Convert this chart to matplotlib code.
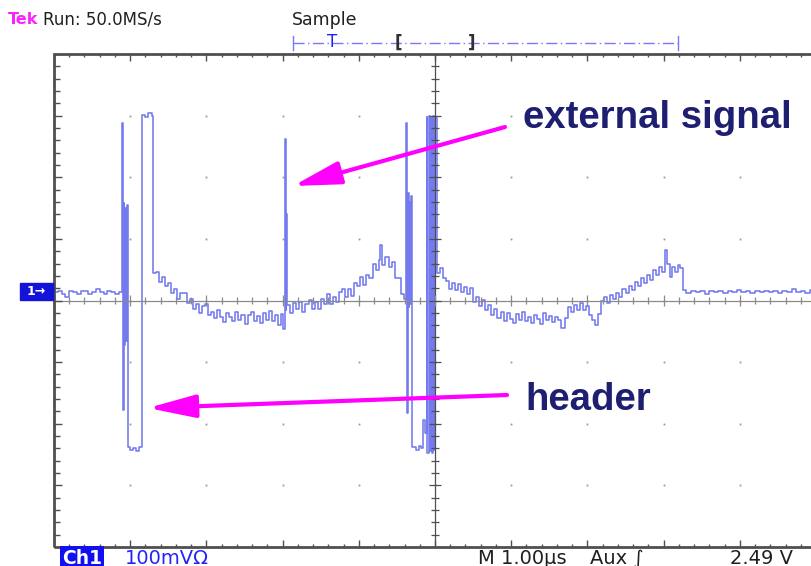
"""Tek oscilloscope capture: header pulses and an external signal spike."""

import matplotlib.pyplot as plt
import numpy as np
from matplotlib.patches import FancyArrowPatch, Rectangle

# scope settings
TIME_PER_DIV = 1.0    # us / div
VOLTS_PER_DIV = 100   # mV / div
H_DIVS = 10
V_DIVS = 8

# CH1 trace, time in us, level in mV
baseline_left_t = [0.00, 0.05, 0.10, 0.15, 0.20, 0.25, 0.30, 0.35, 0.40,
                   0.45, 0.50, 0.55, 0.60, 0.65, 0.70, 0.75, 0.80, 0.85]
baseline_left_mv = [14, 16, 10, 6, 15, 13, 11, 15, 16,
                    11, 14, 18, 13, 11, 16, 14, 10, 14]

header1_t = [0.89, 0.905, 0.915, 0.925, 0.935, 0.945, 0.955, 0.965, 0.97,
             1.00, 1.04, 1.08, 1.12, 1.155, 1.20, 1.24, 1.28]
header1_mv = [288, -178, 158, -72, 150, -65, 155, -70, -238,
              -243, -240, -245, -238, 301, 298, 304, 299]

decay1_t = [1.30, 1.34, 1.38, 1.42, 1.46, 1.50, 1.54, 1.58, 1.62, 1.66,
            1.70, 1.74, 1.78, 1.82, 1.86, 1.90, 1.94, 1.98, 2.02, 2.06,
            2.10, 2.14, 2.18, 2.22, 2.26, 2.30, 2.34, 2.38, 2.42, 2.46,
            2.50, 2.54, 2.58, 2.62, 2.66, 2.70, 2.74, 2.78, 2.82, 2.86,
            2.90, 2.94, 2.98]
decay1_mv = [45, 46, 30, 38, 23, 29, 12, 18, 2, 12,
             12, -4, 3, -13, -6, -21, -9, -6, -24, -18,
             -29, -15, -27, -35, -20, -26, -34, -18, -32, -23,
             -38, -24, -19, -33, -25, -36, -21, -31, -17, -34,
             -24, -39, -22]

ext_spike_t = [3.01, 3.025, 3.04, 3.05]
ext_spike_mv = [-46, 262, -15, 140]

ramp1_t = [3.06, 3.10, 3.14, 3.18, 3.22, 3.26, 3.30, 3.34, 3.38, 3.42,
           3.46, 3.50, 3.54, 3.58, 3.62, 3.66, 3.70, 3.74, 3.78, 3.82,
           3.86, 3.90, 3.94, 3.98, 4.02, 4.06, 4.10, 4.14, 4.18, 4.22,
           4.26, 4.28, 4.31, 4.35, 4.39, 4.43, 4.47, 4.51, 4.55, 4.59]
ramp1_mv = [-7, -20, -4, -14, -2, -19, -6, 1, -13, -2,
            -13, 2, -5, 10, -5, 6, -3, 13, 18, 6,
            18, 7, 28, 23, 38, 25, 42, 37, 59, 50,
            65, 90, 58, 71, 55, 62, 37, 36, 11, 2]

header2_t = [4.62, 4.635, 4.645, 4.655, 4.665, 4.675, 4.685, 4.695, 4.70,
             4.75, 4.79, 4.82, 4.84, 4.865, 4.89, 4.90, 4.915, 4.93,
             4.945, 4.96, 4.975, 4.99, 5.00]
header2_mv = [288, -183, 174, -11, 160, -5, 170, -8, -238,
              -243, -236, -240, -194, -215, 298, -248, 300, -245,
              296, -248, 300, -242, 296]

decay2_t = [5.03, 5.06, 5.10, 5.14, 5.18, 5.22, 5.26, 5.30, 5.34, 5.38,
            5.42, 5.46, 5.50, 5.54, 5.58, 5.62, 5.66, 5.70, 5.74, 5.78,
            5.82, 5.86, 5.90, 5.94, 5.98, 6.02, 6.06, 6.10, 6.14, 6.18,
            6.22, 6.26, 6.30, 6.34, 6.38, 6.42, 6.46, 6.50, 6.54, 6.58,
            6.62, 6.66, 6.70, 6.74, 6.78, 6.82, 6.86, 6.90, 6.94, 6.98,
            7.02, 7.06, 7.10, 7.14, 7.18, 7.22, 7.26, 7.30, 7.34, 7.38,
            7.42, 7.46, 7.50, 7.54, 7.58, 7.62, 7.66, 7.70, 7.74, 7.78,
            7.82, 7.86, 7.90, 7.94, 7.98, 8.02, 8.05, 8.08, 8.11, 8.15,
            8.19, 8.22]
decay2_mv = [45, 52, 36, 31, 19, 29, 17, 27, 14, 22,
             11, 20, -3, 6, -9, 1, -16, -8, -24, -13,
             -29, -18, -33, -21, -30, -36, -22, -31, -19, -34,
             -26, -37, -23, -30, -38, -21, -32, -25, -35, -27,
             -31, -45, -28, -10, -19, -7, -16, -4, -15, -9,
             -24, -31, -39, -22, -1, 6, -4, 9, 2, 12,
             5, 19, 12, 24, 17, 30, 23, 36, 28, 41,
             33, 50, 42, 55, 47, 82, 60, 38, 54, 46,
             57, 52]

baseline_right_t = [8.25, 8.30, 8.36, 8.42, 8.48, 8.54, 8.60, 8.66, 8.72,
                    8.78, 8.84, 8.90, 8.96, 9.02, 9.08, 9.14, 9.20, 9.26,
                    9.32, 9.38, 9.44, 9.50, 9.56, 9.62, 9.68, 9.74, 9.80,
                    9.86, 9.92, 9.98, 10.0]
baseline_right_mv = [17, 12, 16, 14, 16, 11, 16, 13, 15,
                     12, 16, 14, 17, 13, 15, 12, 16, 14,
                     16, 13, 15, 12, 16, 14, 19, 13, 15,
                     12, 17, 14, 15]

TRACE_COLOR = "#737aee"
GRID_COLOR = "#8a8a8a"
FRAME_COLOR = "#4f4f4f"
ARROW_COLOR = "#ff00ff"
LABEL_COLOR = "#1f1f72"


def draw_graticule(ax):
    """Frame, centre cross with ticks and division dots."""
    t_max = H_DIVS * TIME_PER_DIV
    v_max = V_DIVS / 2 * VOLTS_PER_DIV
    x_minor = np.arange(H_DIVS * 5 + 1) * TIME_PER_DIV / 5
    y_minor = np.arange(-V_DIVS * 5 // 2, V_DIVS * 5 // 2 + 1) * VOLTS_PER_DIV / 5
    x_major = np.isclose(x_minor % TIME_PER_DIV, 0) | np.isclose(x_minor % TIME_PER_DIV, TIME_PER_DIV)
    y_major = np.isclose(np.abs(y_minor) % VOLTS_PER_DIV, 0)

    ax.add_patch(Rectangle((0, -v_max), t_max, 2 * v_max, fill=False,
                           edgecolor=FRAME_COLOR, lw=2.0, zorder=5, clip_on=False))

    # edge ticks
    top_len = np.where(x_major, 0.11, 0.05) * VOLTS_PER_DIV
    ax.vlines(x_minor, v_max - top_len, v_max, color=FRAME_COLOR, lw=1.0, zorder=5)
    ax.vlines(x_minor, -v_max, -v_max + top_len, color=FRAME_COLOR, lw=1.0, zorder=5)
    left_len = np.where(y_major, 0.11, 0.08) * TIME_PER_DIV
    ax.hlines(y_minor, 0, left_len, color=FRAME_COLOR, lw=1.0, zorder=5)

    # centre cross
    ax.axhline(0, color=GRID_COLOR, lw=0.9, zorder=4)
    ax.axvline(t_max / 2, color=FRAME_COLOR, lw=0.9, zorder=4)
    h_len = np.where(x_major, 0.09, 0.05) * VOLTS_PER_DIV
    ax.vlines(x_minor, -h_len, h_len, color=GRID_COLOR, lw=0.9, zorder=4)
    v_len = np.where(y_major, 0.08, 0.05) * TIME_PER_DIV
    ax.hlines(y_minor, t_max / 2 - v_len, t_max / 2 + v_len,
              color=FRAME_COLOR, lw=0.9, zorder=4)

    # division dots
    gx, gy = np.meshgrid(np.arange(1, H_DIVS) * TIME_PER_DIV,
                         np.arange(-V_DIVS // 2 + 1, V_DIVS // 2) * VOLTS_PER_DIV)
    ax.plot(gx.ravel(), gy.ravel(), "s", ms=1.3, color="#9a9a9a", mec="none", zorder=2)

    ax.set_xlim(0, t_max)
    ax.set_ylim(-v_max, v_max)
    ax.set_axis_off()


def draw_trace(ax):
    """CH1 trace, sample-and-hold look."""
    t = np.concatenate([baseline_left_t, header1_t, decay1_t, ext_spike_t,
                        ramp1_t, header2_t, decay2_t, baseline_right_t])
    mv = np.concatenate([baseline_left_mv, header1_mv, decay1_mv, ext_spike_mv,
                         ramp1_mv, header2_mv, decay2_mv, baseline_right_mv])
    ax.plot(t, mv, drawstyle="steps-post", color=TRACE_COLOR, lw=1.15, zorder=3)


def draw_readouts(over):
    """Status lines, channel marker, trigger bar."""
    mono = "DejaVu Sans"
    over.text(8, 20, "Tek", color="#ff20ff", fontsize=11.5, fontweight="bold",
              va="center", family=mono)
    over.text(43, 20, "Run: 50.0MS/s", color="#202020", fontsize=12,
              va="center", family=mono)
    over.text(292, 20, "Sample", color="#202020", fontsize=12.5,
              va="center", family=mono)

    # trigger position bar
    over.plot([293, 678], [43, 43], color="#7878ff", lw=1.0,
              dashes=(8, 2.5, 1, 2.5))
    over.plot([293, 293], [36, 50], color="#7878ff", lw=1.0)
    over.plot([678, 678], [36, 50], color="#7878ff", lw=1.0)
    over.text(332, 42, "T", color="#2020ff", fontsize=12, ha="center",
              va="center", family=mono)
    over.text(398, 43, "[", color="#303030", fontsize=12, ha="center",
              va="center", family=mono, fontweight="bold")
    over.text(472, 43, "]", color="#303030", fontsize=12, ha="center",
              va="center", family=mono, fontweight="bold")

    # ground marker
    over.add_patch(Rectangle((20, 283), 33, 17, color="#1414d8", zorder=6))
    over.text(36, 291.5, "1\u2192", color="white", fontsize=9, ha="center",
              va="center", fontweight="bold", zorder=7, family=mono)

    # bottom readouts
    over.text(62, 558, "Ch1", color="white", fontsize=13.5, fontweight="bold",
              va="center", family=mono,
              bbox=dict(boxstyle="square,pad=0.12", fc="#1010f0", ec="none"))
    over.text(125, 558, "100mV\u03a9", color="#2222ff", fontsize=14,
              va="center", family=mono)
    over.text(478, 558, "M 1.00\u00b5s", color="#202020", fontsize=14,
              va="center", family=mono)
    over.text(590, 558, "Aux \u222b", color="#202020", fontsize=14,
              va="center", family=mono)
    over.text(730, 558, "2.49 V", color="#202020", fontsize=14,
              va="center", family=mono)


def draw_annotations(over):
    """Magenta arrows and labels."""
    style = "-|>,head_length=29,head_width=7"
    for tail, tip in [((505, 127), (293, 186)), ((507, 395), (148, 408))]:
        over.add_patch(FancyArrowPatch(tail, tip, arrowstyle=style,
                                       mutation_scale=1, color=ARROW_COLOR,
                                       lw=3, shrinkA=0, shrinkB=0, zorder=8))
    over.text(523, 118, "external signal", color=LABEL_COLOR, fontsize=27.6,
              fontweight="bold", va="center", family="Liberation Sans")
    over.text(525, 400, "header", color=LABEL_COLOR, fontsize=27.6,
              fontweight="bold", va="center", family="Liberation Sans")


def main() -> None:
    width, height = 811, 566
    fig = plt.figure(figsize=(width / 100, height / 100), dpi=100)
    left, top, right, bottom = 54, 54, 816, 547
    ax = fig.add_axes([left / width, 1 - bottom / height,
                       (right - left) / width, (bottom - top) / height])
    draw_graticule(ax)
    draw_trace(ax)

    over = fig.add_axes([0, 0, 1, 1])
    over.set_xlim(0, width)
    over.set_ylim(height, 0)
    over.set_axis_off()
    draw_readouts(over)
    draw_annotations(over)

    fig.savefig("out.png", dpi=100)
    plt.close(fig)


if __name__ == "__main__":
    main()
